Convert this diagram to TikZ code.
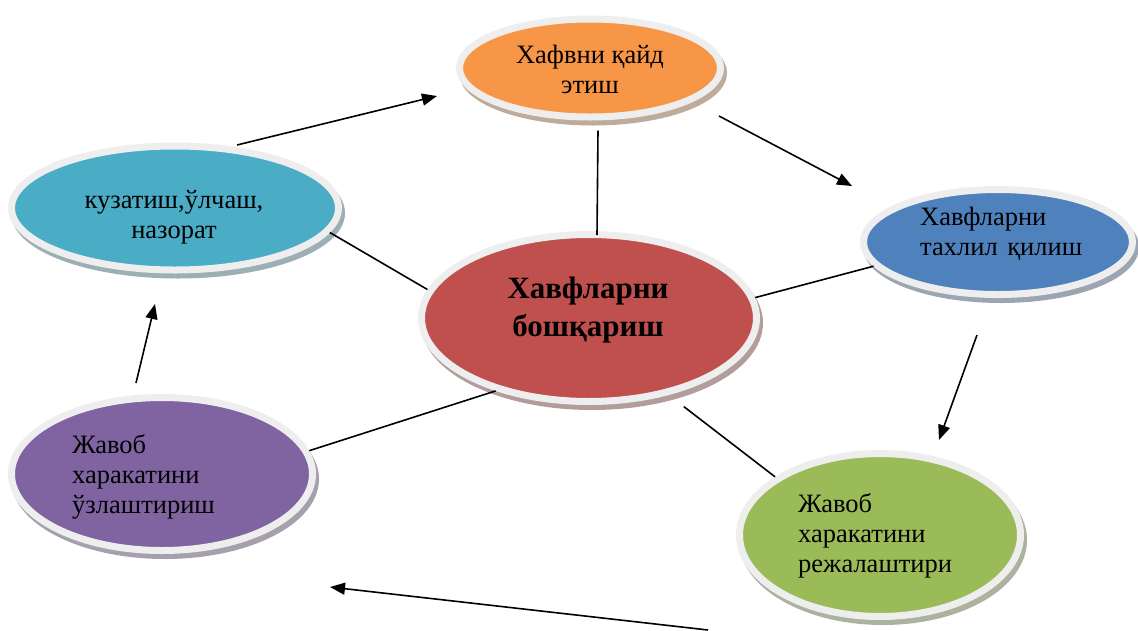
\documentclass[tikz,border=0pt]{standalone}
\usepackage{fontspec}
\setmainfont{Liberation Serif}
\usetikzlibrary{shapes.geometric,arrows.meta}
\definecolor{cOr}{HTML}{F79646}
\definecolor{cCy}{HTML}{4BACC6}
\definecolor{cBl}{HTML}{4F81BD}
\definecolor{cRd}{HTML}{C0504D}
\definecolor{cPu}{HTML}{8064A2}
\definecolor{cGr}{HTML}{9BBB59}
\definecolor{rimc}{RGB}{238,238,238}
\newcommand\myStrutA{\rule{0pt}{20pt}}
\newcommand\myStrutB{\rule{0pt}{24pt}}
\begin{document}
\begin{tikzpicture}[x=1pt,y=-1pt,
  blob/.style={ellipse, inner sep=0pt, draw=rimc, line width=7pt, fill=#1,
    preaction={fill=#1!45!black!45!white, draw=#1!45!black!45!white, line width=7pt,
      transform canvas={xshift=3pt,yshift=-5pt}}},
  lbl/.style={inner sep=0pt, font=\fontsize{26.5}{30}\selectfont},
  spoke/.style={line width=1.6pt},
  flow/.style={line width=1.6pt, -{Triangle[length=15pt,width=12pt]}}]
\useasboundingbox (0,0) rectangle (1138,630);

% ellipses
\node[blob=cOr, minimum width=261pt, minimum height=98pt]  (or) at (590,68)  {};
\node[blob=cCy, minimum width=327pt, minimum height=124pt] (cy) at (175,208) {};
\node[blob=cBl, minimum width=269pt, minimum height=105pt] (bl) at (998,242) {};
\node[blob=cRd, minimum width=335pt, minimum height=167pt] (rd) at (589,318) {};
\node[blob=cPu, minimum width=301pt, minimum height=153pt] (pu) at (162,474) {};
\node[blob=cGr, minimum width=281pt, minimum height=163pt] (gr) at (880,535) {};

% labels
\node[lbl, anchor=north, align=center] (tor) at (590,43) {\myStrutA Хафвни қайд\\этиш};
\node[lbl, anchor=north, align=center] (tcy) at (174,188) {\myStrutA кузатиш,ўлчаш,\\назорат};
\node[lbl, anchor=north west, align=left] (tbl) at (920,205) {\myStrutA Хавфларни\\тахлил\hspace{3pt} қилиш};
\node[lbl, anchor=north, align=center, font=\bfseries\fontsize{31}{38}\selectfont] (trd) at (588,274) {\myStrutB Хавфларни\\бошқариш};
\node[lbl, anchor=north west, align=left] (tpu) at (72,433) {\myStrutA Жавоб\\харакатини\\ўзлаштириш};
\node[lbl, anchor=north west, align=left] (tgr) at (798,492) {\myStrutA Жавоб\\харакатини\\режалаштири};

% spokes
\draw[spoke] ([xshift=8pt,yshift=-10pt]or.south) -- ([xshift=8pt,yshift=-4pt]rd.north);
\draw[spoke] (cy.-9) -- (rd.170);
\draw[spoke] (bl.191) -- (rd.7);
\draw[spoke] (pu.9) -- (rd.-142);
\draw[spoke, shorten <=19pt] (rd.-44) -- (gr.151);

% cycle arrows
\coordinate (a1s) at (237,145); \coordinate (a1e) at (437,96);
\coordinate (a2s) at (719,116); \coordinate (a2e) at (852,186);
\coordinate (a3s) at (977,335); \coordinate (a3e) at (939,440);
\coordinate (a4s) at (708,630); \coordinate (a4e) at (330,587);
\coordinate (a5s) at (136,383); \coordinate (a5e) at (155,304);
\draw[flow] (a1s) -- (a1e);
\draw[flow] (a2s) -- (a2e);
\draw[flow] (a3s) -- (a3e);
\draw[flow] (a4s) -- (a4e);
\draw[flow] (a5s) -- (a5e);
\end{tikzpicture}
\end{document}
